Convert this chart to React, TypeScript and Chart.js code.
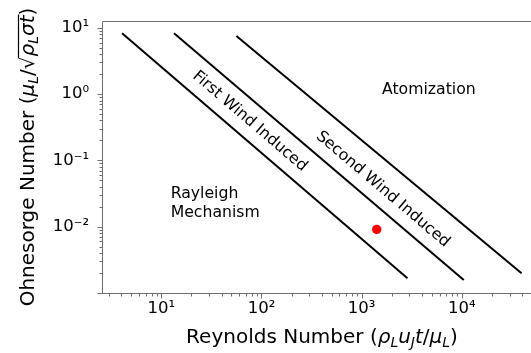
import React, { useEffect, useRef } from 'react';
import { Chart, registerables } from 'chart.js';

Chart.register(...registerables);

// Regime boundary lines: end points as (Reynolds, Ohnesorge)
const rayleighLimitRe = [4.06, 2865];
const rayleighLimitOh = [8.26, 0.00167];
const firstWindLimitRe = [13.4, 10450];
const firstWindLimitOh = [8.26, 0.00157];
const secondWindLimitRe = [56.2, 39400];
const secondWindLimitOh = [7.52, 0.00198];

// Operating point
const pointRe = [1413];
const pointOh = [0.0091];

// Axis ranges and tick labels
const xRange = [2.56, 48970];
const yRange = [0.001, 12.67];
const xMajorTicks = [10, 100, 1000, 10000];
const xMajorLabels = ['10¹', '10²', '10³', '10⁴'];
const yMajorTicks = [0.01, 0.1, 1, 10];
const yMajorLabels = ['10⁻²', '10⁻¹', '10⁰', '10¹'];

// Region labels (text, anchor Re, anchor Oh)
const regionNames = ['Atomization', 'Rayleigh', 'Mechanism', 'First Wind Induced', 'Second Wind Induced'];
const regionRe = [4680, 12.4, 12.4, 76.4, 1626];
const regionOh = [1.14, 0.0308, 0.0159, 0.389, 0.0366];

const FONT = "'DejaVu Sans', sans-serif";
const TICK_SIZE = 16.5;
const LABEL_SIZE = 20;
const NOTE_SIZE = 15.7;
const SPINE = '#6e6e6e';

function logTicks(min: number, max: number) {
  const out: { value: number; major: boolean }[] = [];
  const e0 = Math.floor(Math.log10(min));
  const e1 = Math.ceil(Math.log10(max));
  for (let e = e0; e <= e1; e++) {
    for (let k = 1; k <= 9; k++) {
      const v = parseFloat((k * Math.pow(10, e)).toPrecision(6));
      if (v >= min * 0.9999 && v <= max * 1.0001) out.push({ value: v, major: k === 1 });
    }
  }
  return out;
}

function labelFor(value: number, ticks: number[], labels: string[]) {
  const i = ticks.findIndex((t) => Math.abs(t - value) / t < 1e-6);
  return i >= 0 ? labels[i] : '';
}

type Run = { t: string; it?: boolean; sub?: boolean; over?: boolean };

function drawRuns(ctx: CanvasRenderingContext2D, runs: Run[], size: number) {
  const fontOf = (r: Run) => `${r.it ? 'italic ' : ''}${r.sub ? size * 0.7 : size}px ${FONT}`;
  let total = 0;
  const widths = runs.map((r) => {
    ctx.font = fontOf(r);
    const w = ctx.measureText(r.t).width;
    total += w;
    return w;
  });
  let x = -total / 2;
  let overStart: number | null = null;
  let overEnd = 0;
  ctx.font = `${size}px ${FONT}`;
  const rad = ctx.measureText('√');
  const overY = -(rad.actualBoundingBoxAscent || size * 0.8) + 0.5;
  runs.forEach((r, i) => {
    ctx.font = fontOf(r);
    ctx.fillText(r.t, x, r.sub ? size * 0.22 : 0);
    if (r.over) {
      if (overStart === null) overStart = x - 1;
      overEnd = x + widths[i] + 1;
    }
    x += widths[i];
  });
  if (overStart !== null) {
    ctx.beginPath();
    ctx.lineWidth = 1.2;
    ctx.moveTo(overStart, overY);
    ctx.lineTo(overEnd, overY);
    ctx.stroke();
  }
}

const xTitle: Run[] = [
  { t: 'Reynolds Number (' },
  { t: 'ρ', it: true },
  { t: 'L', it: true, sub: true },
  { t: 'u', it: true },
  { t: 'J', it: true, sub: true },
  { t: 't', it: true },
  { t: '/' },
  { t: 'μ', it: true },
  { t: 'L', it: true, sub: true },
  { t: ')' },
];

const yTitle: Run[] = [
  { t: 'Ohnesorge Number (' },
  { t: 'μ', it: true },
  { t: 'L', it: true, sub: true },
  { t: '/' },
  { t: '√' },
  { t: 'ρ', it: true, over: true },
  { t: 'L', it: true, sub: true, over: true },
  { t: 'σ', it: true, over: true },
  { t: 't', it: true, over: true },
  { t: ')' },
];

const decorPlugin = {
  id: 'decor',
  afterDraw(chart: any) {
    const { ctx, chartArea: a, scales } = chart;
    const xs = scales.x;
    const ys = scales.y;
    ctx.save();
    // spines
    ctx.strokeStyle = SPINE;
    ctx.lineWidth = 1;
    ctx.beginPath();
    ctx.moveTo(a.left + 0.5, a.top + 0.5);
    ctx.lineTo(a.right + 1, a.top + 0.5);
    ctx.moveTo(a.left + 0.5, a.top + 0.5);
    ctx.lineTo(a.left + 0.5, a.bottom + 0.5);
    ctx.lineTo(a.right + 1, a.bottom + 0.5);
    ctx.stroke();
    // tick marks
    ctx.beginPath();
    xs.ticks.forEach((t: any) => {
      const px = Math.round(xs.getPixelForValue(t.value)) + 0.5;
      const len = t.major ? 5 : 3;
      ctx.moveTo(px, a.bottom + 0.5);
      ctx.lineTo(px, a.bottom + 0.5 + len);
    });
    ys.ticks.forEach((t: any) => {
      const py = Math.round(ys.getPixelForValue(t.value)) + 0.5;
      const len = t.major ? 5 : 3;
      ctx.moveTo(a.left + 0.5, py);
      ctx.lineTo(a.left + 0.5 - len, py);
    });
    ctx.stroke();

    // region annotations
    ctx.fillStyle = '#000';
    ctx.strokeStyle = '#000';
    ctx.font = `${NOTE_SIZE}px ${FONT}`;
    ctx.textBaseline = 'middle';
    const ang = (re: number[], oh: number[]) =>
      Math.atan2(
        ys.getPixelForValue(oh[1]) - ys.getPixelForValue(oh[0]),
        xs.getPixelForValue(re[1]) - xs.getPixelForValue(re[0])
      );
    regionNames.forEach((name, i) => {
      const px = xs.getPixelForValue(regionRe[i]);
      const py = ys.getPixelForValue(regionOh[i]);
      ctx.save();
      ctx.translate(px, py);
      if (i === 3) ctx.rotate(ang(rayleighLimitRe, rayleighLimitOh));
      if (i === 4) ctx.rotate(ang(firstWindLimitRe, firstWindLimitOh));
      ctx.textAlign = i === 1 || i === 2 ? 'left' : 'center';
      ctx.fillText(name, 0, 0);
      ctx.restore();
    });

    // axis titles
    ctx.textBaseline = 'alphabetic';
    ctx.textAlign = 'left';
    ctx.save();
    ctx.translate(322, 343);
    drawRuns(ctx, xTitle, LABEL_SIZE);
    ctx.restore();
    ctx.save();
    ctx.translate(34, (a.top + a.bottom) / 2);
    ctx.rotate(-Math.PI / 2);
    drawRuns(ctx, yTitle, LABEL_SIZE);
    ctx.restore();
    ctx.restore();
  },
};

export default function App() {
  const ref = useRef<HTMLCanvasElement | null>(null);
  useEffect(() => {
    document.body.style.margin = '0';
    const canvas = ref.current;
    if (!canvas) return;
    const lineStyle = {
      showLine: true,
      borderColor: '#000',
      borderWidth: 2,
      pointRadius: 0,
      fill: false,
    };
    const toPts = (re: number[], oh: number[]) => re.map((r, i) => ({ x: r, y: oh[i] }));
    const chart = new Chart(canvas, {
      type: 'scatter',
      data: {
        datasets: [
          { label: 'Rayleigh limit', data: toPts(rayleighLimitRe, rayleighLimitOh), ...lineStyle },
          { label: 'First wind limit', data: toPts(firstWindLimitRe, firstWindLimitOh), ...lineStyle },
          { label: 'Second wind limit', data: toPts(secondWindLimitRe, secondWindLimitOh), ...lineStyle },
          {
            label: 'Operating point',
            data: toPts(pointRe, pointOh),
            pointRadius: 4.7,
            backgroundColor: '#ff0000',
            borderWidth: 0,
          },
        ] as any,
      },
      options: {
        animation: false,
        responsive: false,
        devicePixelRatio: 1,
        layout: { autoPadding: false, padding: { top: 21, left: 0, right: 0, bottom: 0 } },
        plugins: { legend: { display: false }, tooltip: { enabled: false } },
        scales: {
          x: {
            type: 'logarithmic',
            min: xRange[0],
            max: xRange[1],
            afterBuildTicks: (s: any) => {
              s.ticks = logTicks(xRange[0], xRange[1]);
            },
            afterFit: (s: any) => {
              s.height = 60;
              s.paddingLeft = 0;
              s.paddingRight = 0;
            },
            grid: { drawOnChartArea: false, drawTicks: true, tickLength: 5, color: 'rgba(0,0,0,0)' },
            border: { display: false },
            ticks: {
              autoSkip: false,
              maxRotation: 0,
              padding: 1,
              color: '#000',
              font: { family: FONT, size: TICK_SIZE },
              callback: (v: any) => labelFor(Number(v), xMajorTicks, xMajorLabels),
            },
          },
          y: {
            type: 'logarithmic',
            min: yRange[0],
            max: yRange[1],
            afterBuildTicks: (s: any) => {
              s.ticks = logTicks(yRange[0], yRange[1]);
            },
            afterFit: (s: any) => {
              s.width = 102;
              s.paddingTop = 0;
              s.paddingBottom = 0;
            },
            grid: { drawOnChartArea: false, drawTicks: true, tickLength: 5, color: 'rgba(0,0,0,0)' },
            border: { display: false },
            ticks: {
              autoSkip: false,
              padding: 8,
              color: '#000',
              font: { family: FONT, size: TICK_SIZE },
              callback: (v: any) => labelFor(Number(v), yMajorTicks, yMajorLabels),
            },
          },
        },
      } as any,
      plugins: [decorPlugin],
    });
    return () => chart.destroy();
  }, []);
  return <canvas ref={ref} width={531} height={353} style={{ display: 'block', width: 531, height: 353 }} />;
}
